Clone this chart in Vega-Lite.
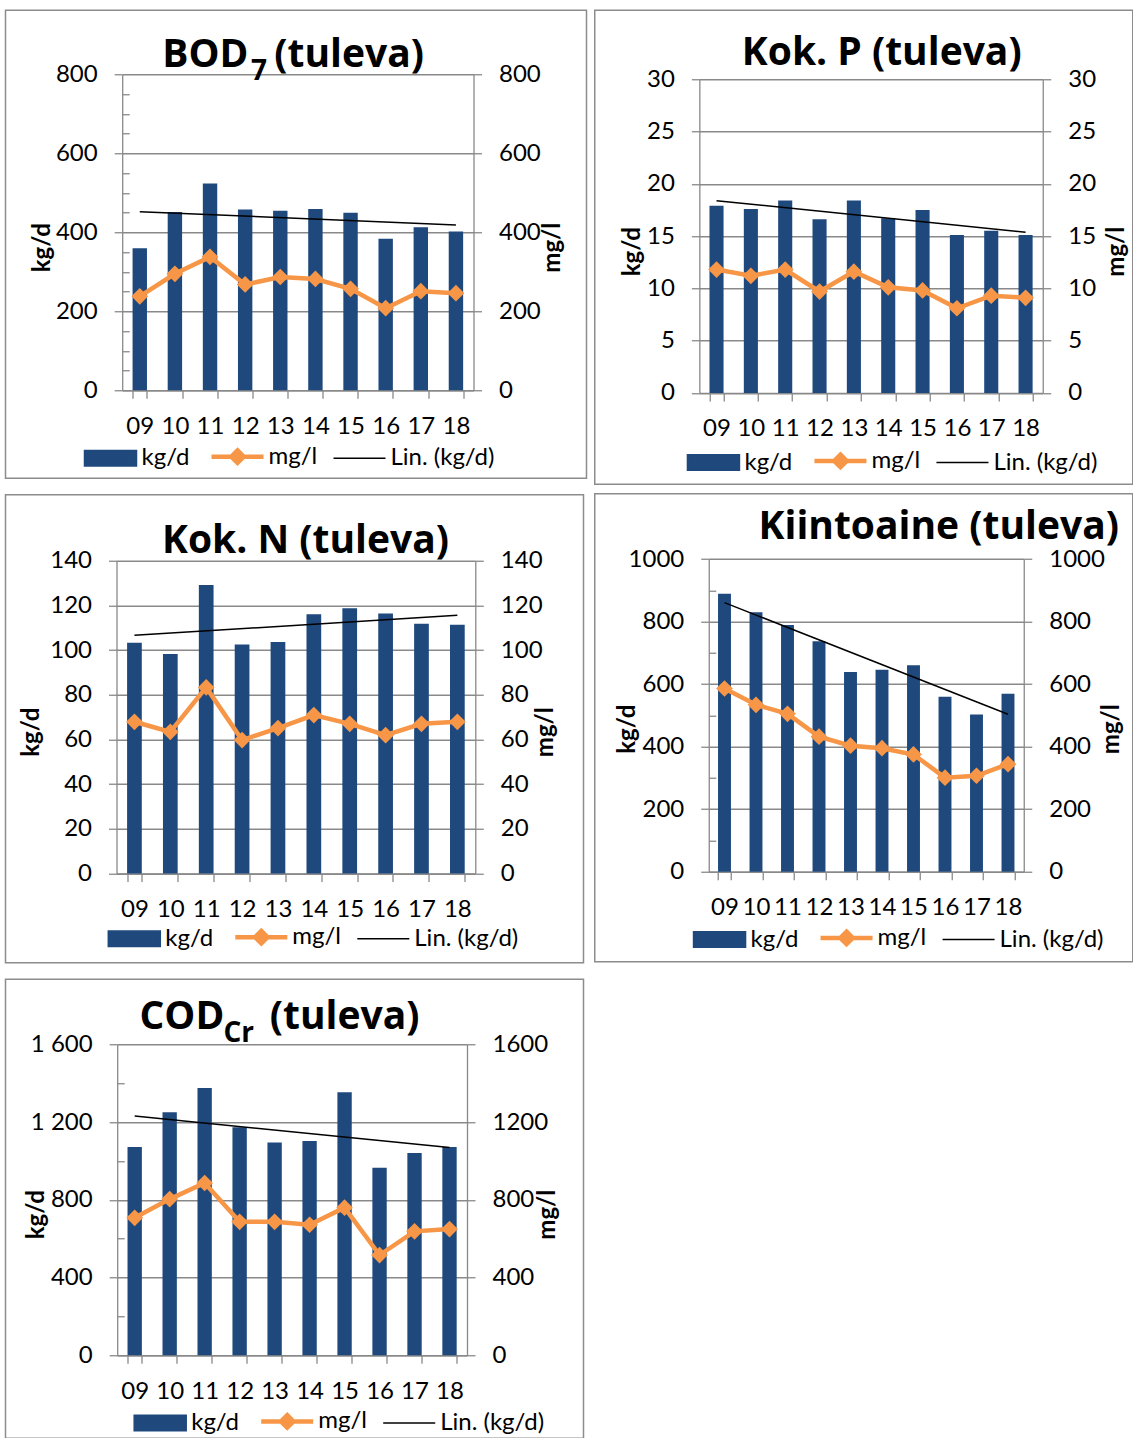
{
  "$schema": "https://vega.github.io/schema/vega-lite/v6.json",
  "padding": {"left": 4.5, "top": 9.25, "right": 0, "bottom": 0},
  "background": "white",
  "config": {
    "font": "Lato",
    "view": {"stroke": "#8c8c8c", "strokeWidth": 1.5, "fill": "white"},
    "axis": {
      "domainColor": "#898989", "domainWidth": 1.3,
      "tickColor": "#898989", "tickWidth": 1.3, "tickSize": 8,
      "gridColor": "#898989", "gridWidth": 1.3,
      "labelFont": "Lato", "labelFontSize": 24, "labelColor": "#000000", "labelPadding": 17,
      "labelFlush": false, "labelOverlap": false,
      "titleFont": "Lato", "titleFontSize": 24, "titleFontWeight": "bold", "titleColor": "#000000"
    },
    "legend": {"padding": 0, "labelFont": "Lato", "labelFontSize": 24, "labelColor": "#000000", "symbolSize": 2704, "labelOffset": 19, "columnPadding": 13}
  },
  "resolve": {"scale": {"color": "independent"}, "legend": {"color": "independent"}},
  "spacing": 6.25,
  "hconcat": [
    {
      "spacing": 14.5,
      "resolve": {"scale": {"color": "independent"}, "legend": {"color": "independent"}},
      "vconcat": [
        {
          "width": 581, "height": 468,
          "title": {"text": "BOD\u2002\u2009(tuleva)", "subtitle": "\u200b\u2003\u2003\u2003\u20067", "orient": "top", "anchor": "start", "frame": "group", "align": "left", "dx": 156.7, "offset": -75.6, "subtitlePadding": -17.3, "font": "Open Sans", "fontSize": 39, "fontWeight": "bold", "color": "#000000", "subtitleFont": "Open Sans", "subtitleFontSize": 28, "subtitleFontWeight": "bold", "subtitleColor": "#000000"},
          "data": {"values": [
            {"yr": 9, "kgd": 360, "mgl": 238},
            {"yr": 10, "kgd": 452, "mgl": 295},
            {"yr": 11, "kgd": 524, "mgl": 338},
            {"yr": 12, "kgd": 458, "mgl": 268},
            {"yr": 13, "kgd": 455, "mgl": 287},
            {"yr": 14, "kgd": 459, "mgl": 282},
            {"yr": 15, "kgd": 450, "mgl": 257},
            {"yr": 16, "kgd": 384, "mgl": 208},
            {"yr": 17, "kgd": 413, "mgl": 251},
            {"yr": 18, "kgd": 402, "mgl": 246}
          ]},
          "encoding": {"x": {"field": "yr", "type": "ordinal", "scale": {"type": "band", "domain": [9, 10, 11, 12, 13, 14, 15, 16, 17, 18], "range": [116.7, 468], "paddingInner": 0.59, "paddingOuter": 0.295}, "axis": {"orient": "bottom", "offset": -88, "title": null, "tickBand": "extent", "labelAngle": 0, "grid": false, "labelPadding": 16, "labelExpr": "isValid(datum.value) ? ((datum.value < 10 ? '0' : '') + datum.value) : ''"}}},
          "layer": [
            {"mark": {"type": "bar"},
             "encoding": {
               "y": {"field": "kgd", "type": "quantitative", "scale": {"domain": [0, 800], "range": [380, 64.3], "nice": false, "zero": false},
                     "axis": {"orient": "left", "offset": -116.7, "values": [0, 200, 400, 600, 800], "format": "d", "title": "kg/d", "titleX": -79.7, "titleY": 237, "titleAngle": 270, "titleAlign": "center", "titleBaseline": "middle", "grid": true, "labelDy": 1}},
               "color": {"datum": "kg/d", "title": null, "scale": {"domain": ["kg/d", "mg/l", "Lin. (kg/d)"], "range": ["#1f497d", "#f79646", "#000000"]},
                         "legend": {"orient": "none", "direction": "horizontal", "legendX": 93, "legendY": 434, "title": null,
                                    "encode": {"symbols": {"update": {
                                      "shape": {"signal": "datum.value === 'kg/d' ? 'M-1,-0.3H1V0.3H-1Z' : datum.value === 'mg/l' ? 'M-1,0H1M0,-0.24L0.24,0L0,0.24L-0.24,0Z' : 'M-1,0H1'"},
                                      "fill": {"signal": "datum.value === 'kg/d' ? '#1f497d' : datum.value === 'mg/l' ? '#f79646' : 'transparent'"},
                                      "stroke": {"signal": "datum.value === 'kg/d' ? 'transparent' : datum.value === 'mg/l' ? '#f79646' : '#000000'"},
                                      "strokeWidth": {"signal": "datum.value === 'mg/l' ? 4.5 : 1.5"},
                                      "opacity": {"value": 1}, "size": {"value": 2704}}}}}}
             }},
            {"transform": [{"regression": "kgd", "on": "yr"}],
             "mark": {"type": "line", "strokeWidth": 1.5},
             "encoding": {"y": {"field": "kgd", "type": "quantitative", "scale": {"domain": [0, 800], "range": [380, 64.3], "nice": false, "zero": false},
                                "axis": {"orient": "left", "offset": -116.7, "values": [50, 100, 150, 250, 300, 350, 450, 500, 550, 650, 700, 750], "labels": false, "domain": false, "grid": false, "tickSize": -7, "title": null}},
                          "color": {"datum": "Lin. (kg/d)"}}},
            {"mark": {"type": "line", "strokeWidth": 4.5, "point": {"shape": "diamond", "size": 280, "filled": true, "opacity": 1}},
             "encoding": {
               "y": {"field": "mgl", "type": "quantitative", "scale": {"domain": [0, 800], "range": [380, 64.3], "nice": false, "zero": false},
                     "axis": {"orient": "right", "offset": -113, "values": [0, 200, 400, 600, 800], "format": "d", "title": "mg/l", "titleX": 79, "titleY": 237, "titleAngle": 270, "titleAlign": "center", "titleBaseline": "middle", "grid": false, "labelDy": 1}},
               "color": {"datum": "mg/l"}}}
          ],
          "resolve": {"scale": {"y": "independent"}}
        },
        {
          "width": 578, "height": 468,
          "title": {"text": "Kok. N (tuleva)", "orient": "top", "anchor": "start", "frame": "group", "align": "center", "dx": 300, "offset": -65.9, "font": "Open Sans", "fontSize": 39, "fontWeight": "bold", "color": "#000000"},
          "data": {"values": [
            {"yr": 9, "kgd": 103.3, "mgl": 67.9},
            {"yr": 10, "kgd": 98.2, "mgl": 63.4},
            {"yr": 11, "kgd": 129.1, "mgl": 83.3},
            {"yr": 12, "kgd": 102.5, "mgl": 59.7},
            {"yr": 13, "kgd": 103.6, "mgl": 65.1},
            {"yr": 14, "kgd": 116.1, "mgl": 70.9},
            {"yr": 15, "kgd": 118.7, "mgl": 67.0},
            {"yr": 16, "kgd": 116.4, "mgl": 61.9},
            {"yr": 17, "kgd": 111.8, "mgl": 67.0},
            {"yr": 18, "kgd": 111.3, "mgl": 67.9}
          ]},
          "encoding": {"x": {"field": "yr", "type": "ordinal", "scale": {"type": "band", "domain": [9, 10, 11, 12, 13, 14, 15, 16, 17, 18], "range": [111, 469.8], "paddingInner": 0.59, "paddingOuter": 0.295}, "axis": {"orient": "bottom", "offset": -89.3, "title": null, "tickBand": "extent", "labelAngle": 0, "grid": false, "labelPadding": 16, "labelExpr": "isValid(datum.value) ? ((datum.value < 10 ? '0' : '') + datum.value) : ''"}}},
          "layer": [
            {"mark": {"type": "bar"},
             "encoding": {
               "y": {"field": "kgd", "type": "quantitative", "scale": {"domain": [0, 140], "range": [378.7, 66], "nice": false, "zero": false},
                     "axis": {"orient": "left", "offset": -111, "values": [0, 20, 40, 60, 80, 100, 120, 140], "format": "d", "title": "kg/d", "titleX": -85, "titleY": 237, "titleAngle": 270, "titleAlign": "center", "titleBaseline": "middle", "grid": true, "labelDy": 1}},
               "color": {"datum": "kg/d", "title": null, "scale": {"domain": ["kg/d", "mg/l", "Lin. (kg/d)"], "range": ["#1f497d", "#f79646", "#000000"]},
                         "legend": {"orient": "none", "direction": "horizontal", "legendX": 116.8, "legendY": 430, "title": null,
                                    "encode": {"symbols": {"update": {
                                      "shape": {"signal": "datum.value === 'kg/d' ? 'M-1,-0.3H1V0.3H-1Z' : datum.value === 'mg/l' ? 'M-1,0H1M0,-0.24L0.24,0L0,0.24L-0.24,0Z' : 'M-1,0H1'"},
                                      "fill": {"signal": "datum.value === 'kg/d' ? '#1f497d' : datum.value === 'mg/l' ? '#f79646' : 'transparent'"},
                                      "stroke": {"signal": "datum.value === 'kg/d' ? 'transparent' : datum.value === 'mg/l' ? '#f79646' : '#000000'"},
                                      "strokeWidth": {"signal": "datum.value === 'mg/l' ? 4.5 : 1.5"},
                                      "opacity": {"value": 1}, "size": {"value": 2704}}}}}}
             }},
            {"transform": [{"regression": "kgd", "on": "yr"}],
             "mark": {"type": "line", "strokeWidth": 1.5},
             "encoding": {"y": {"field": "kgd", "type": "quantitative", "scale": {"domain": [0, 140], "range": [378.7, 66], "nice": false, "zero": false}, "axis": null}, "color": {"datum": "Lin. (kg/d)"}}},
            {"mark": {"type": "line", "strokeWidth": 4.5, "point": {"shape": "diamond", "size": 280, "filled": true, "opacity": 1}},
             "encoding": {
               "y": {"field": "mgl", "type": "quantitative", "scale": {"domain": [0, 140], "range": [378.7, 66], "nice": false, "zero": false},
                     "axis": {"orient": "right", "offset": -108.2, "values": [0, 20, 40, 60, 80, 100, 120, 140], "format": "d", "title": "mg/l", "titleX": 70.2, "titleY": 237, "titleAngle": 270, "titleAlign": "center", "titleBaseline": "middle", "grid": false, "labelDy": 1}},
               "color": {"datum": "mg/l"}}}
          ],
          "resolve": {"scale": {"y": "independent"}}
        },
        {
          "width": 578, "height": 459,
          "title": {"text": "COD\u2003\u2009(tuleva)", "subtitle": "\u200b\u2003\u2003\u2002\u2006\u2006\u2006Cr", "orient": "top", "anchor": "start", "frame": "group", "align": "left", "dx": 134, "offset": -68.9, "subtitlePadding": -17.3, "font": "Open Sans", "fontSize": 39, "fontWeight": "bold", "color": "#000000", "subtitleFont": "Open Sans", "subtitleFontSize": 28, "subtitleFontWeight": "bold", "subtitleColor": "#000000"},
          "data": {"values": [
            {"yr": 9, "kgd": 1072, "mgl": 708},
            {"yr": 10, "kgd": 1251, "mgl": 804},
            {"yr": 11, "kgd": 1376, "mgl": 887},
            {"yr": 12, "kgd": 1174, "mgl": 687},
            {"yr": 13, "kgd": 1096, "mgl": 687},
            {"yr": 14, "kgd": 1103, "mgl": 672},
            {"yr": 15, "kgd": 1354, "mgl": 760},
            {"yr": 16, "kgd": 966, "mgl": 516},
            {"yr": 17, "kgd": 1041, "mgl": 638},
            {"yr": 18, "kgd": 1072, "mgl": 650}
          ]},
          "encoding": {"x": {"field": "yr", "type": "ordinal", "scale": {"type": "band", "domain": [9, 10, 11, 12, 13, 14, 15, 16, 17, 18], "range": [111.7, 461.5], "paddingInner": 0.59, "paddingOuter": 0.295}, "axis": {"orient": "bottom", "offset": -83, "title": null, "tickBand": "extent", "labelAngle": 0, "grid": false, "labelPadding": 16, "labelExpr": "isValid(datum.value) ? ((datum.value < 10 ? '0' : '') + datum.value) : ''"}}},
          "layer": [
            {"mark": {"type": "bar"},
             "encoding": {
               "y": {"field": "kgd", "type": "quantitative", "scale": {"domain": [0, 1600], "range": [376, 65.3], "nice": false, "zero": false},
                     "axis": {"orient": "left", "offset": -111.7, "values": [0, 400, 800, 1200, 1600], "title": "kg/d", "titleX": -81.2, "titleY": 235, "titleAngle": 270, "titleAlign": "center", "titleBaseline": "middle", "grid": true, "labelDy": 1, "labelExpr": "datum.value >= 1000 ? floor(datum.value / 1000) + ' ' + format(datum.value % 1000, '03d') : '' + datum.value"}},
               "color": {"datum": "kg/d", "title": null, "scale": {"domain": ["kg/d", "mg/l", "Lin. (kg/d)"], "range": ["#1f497d", "#f79646", "#000000"]},
                         "legend": {"orient": "none", "direction": "horizontal", "legendX": 142.7, "legendY": 429.8, "title": null,
                                    "encode": {"symbols": {"update": {
                                      "shape": {"signal": "datum.value === 'kg/d' ? 'M-1,-0.3H1V0.3H-1Z' : datum.value === 'mg/l' ? 'M-1,0H1M0,-0.24L0.24,0L0,0.24L-0.24,0Z' : 'M-1,0H1'"},
                                      "fill": {"signal": "datum.value === 'kg/d' ? '#1f497d' : datum.value === 'mg/l' ? '#f79646' : 'transparent'"},
                                      "stroke": {"signal": "datum.value === 'kg/d' ? 'transparent' : datum.value === 'mg/l' ? '#f79646' : '#000000'"},
                                      "strokeWidth": {"signal": "datum.value === 'mg/l' ? 4.5 : 1.5"},
                                      "opacity": {"value": 1}, "size": {"value": 2704}}}}}}
             }},
            {"transform": [{"regression": "kgd", "on": "yr"}],
             "mark": {"type": "line", "strokeWidth": 1.5},
             "encoding": {"y": {"field": "kgd", "type": "quantitative", "scale": {"domain": [0, 1600], "range": [376, 65.3], "nice": false, "zero": false},
                                "axis": {"orient": "left", "offset": -111.7, "values": [200, 600, 1000, 1400], "labels": false, "domain": false, "grid": false, "tickSize": -7, "title": null}},
                          "color": {"datum": "Lin. (kg/d)"}}},
            {"mark": {"type": "line", "strokeWidth": 4.5, "point": {"shape": "diamond", "size": 280, "filled": true, "opacity": 1}},
             "encoding": {
               "y": {"field": "mgl", "type": "quantitative", "scale": {"domain": [0, 1600], "range": [376, 65.3], "nice": false, "zero": false},
                     "axis": {"orient": "right", "offset": -116.5, "values": [0, 400, 800, 1200, 1600], "format": "d", "title": "mg/l", "titleX": 80.5, "titleY": 235, "titleAngle": 270, "titleAlign": "center", "titleBaseline": "middle", "grid": false, "labelDy": 1}},
               "color": {"datum": "mg/l"}}}
          ],
          "resolve": {"scale": {"y": "independent"}}
        }
      ]
    },
    {
      "spacing": 7.5,
      "resolve": {"scale": {"color": "independent"}, "legend": {"color": "independent"}},
      "vconcat": [
        {
          "width": 538, "height": 474,
          "title": {"text": "Kok. P (tuleva)", "orient": "top", "anchor": "start", "frame": "group", "align": "center", "dx": 287, "offset": -63.2, "font": "Open Sans", "fontSize": 39, "fontWeight": "bold", "color": "#000000"},
          "data": {"values": [
            {"yr": 9, "kgd": 17.9, "mgl": 11.8},
            {"yr": 10, "kgd": 17.6, "mgl": 11.2},
            {"yr": 11, "kgd": 18.4, "mgl": 11.8},
            {"yr": 12, "kgd": 16.6, "mgl": 9.7},
            {"yr": 13, "kgd": 18.4, "mgl": 11.6},
            {"yr": 14, "kgd": 16.7, "mgl": 10.1},
            {"yr": 15, "kgd": 17.5, "mgl": 9.8},
            {"yr": 16, "kgd": 15.1, "mgl": 8.1},
            {"yr": 17, "kgd": 15.5, "mgl": 9.3},
            {"yr": 18, "kgd": 15.1, "mgl": 9.1}
          ]},
          "encoding": {"x": {"field": "yr", "type": "ordinal", "scale": {"type": "band", "domain": [9, 10, 11, 12, 13, 14, 15, 16, 17, 18], "range": [104.6, 448], "paddingInner": 0.59, "paddingOuter": 0.295}, "axis": {"orient": "bottom", "offset": -91.3, "title": null, "tickBand": "extent", "labelAngle": 0, "grid": false, "labelPadding": 16, "labelExpr": "isValid(datum.value) ? ((datum.value < 10 ? '0' : '') + datum.value) : ''"}}},
          "layer": [
            {"mark": {"type": "bar"},
             "encoding": {
               "y": {"field": "kgd", "type": "quantitative", "scale": {"domain": [0, 30], "range": [382.7, 69], "nice": false, "zero": false},
                     "axis": {"orient": "left", "offset": -104.6, "values": [0, 5, 10, 15, 20, 25, 30], "format": "d", "title": "kg/d", "titleX": -66.6, "titleY": 241, "titleAngle": 270, "titleAlign": "center", "titleBaseline": "middle", "grid": true, "labelDy": 1}},
               "color": {"datum": "kg/d", "title": null, "scale": {"domain": ["kg/d", "mg/l", "Lin. (kg/d)"], "range": ["#1f497d", "#f79646", "#000000"]},
                         "legend": {"orient": "none", "direction": "horizontal", "legendX": 106.7, "legendY": 438.3, "title": null,
                                    "encode": {"symbols": {"update": {
                                      "shape": {"signal": "datum.value === 'kg/d' ? 'M-1,-0.3H1V0.3H-1Z' : datum.value === 'mg/l' ? 'M-1,0H1M0,-0.24L0.24,0L0,0.24L-0.24,0Z' : 'M-1,0H1'"},
                                      "fill": {"signal": "datum.value === 'kg/d' ? '#1f497d' : datum.value === 'mg/l' ? '#f79646' : 'transparent'"},
                                      "stroke": {"signal": "datum.value === 'kg/d' ? 'transparent' : datum.value === 'mg/l' ? '#f79646' : '#000000'"},
                                      "strokeWidth": {"signal": "datum.value === 'mg/l' ? 4.5 : 1.5"},
                                      "opacity": {"value": 1}, "size": {"value": 2704}}}}}}
             }},
            {"transform": [{"regression": "kgd", "on": "yr"}],
             "mark": {"type": "line", "strokeWidth": 1.5},
             "encoding": {"y": {"field": "kgd", "type": "quantitative", "scale": {"domain": [0, 30], "range": [382.7, 69], "nice": false, "zero": false}, "axis": null}, "color": {"datum": "Lin. (kg/d)"}}},
            {"mark": {"type": "line", "strokeWidth": 4.5, "point": {"shape": "diamond", "size": 280, "filled": true, "opacity": 1}},
             "encoding": {
               "y": {"field": "mgl", "type": "quantitative", "scale": {"domain": [0, 30], "range": [382.7, 69], "nice": false, "zero": false},
                     "axis": {"orient": "right", "offset": -90, "values": [0, 5, 10, 15, 20, 25, 30], "format": "d", "title": "mg/l", "titleX": 74, "titleY": 241, "titleAngle": 270, "titleAlign": "center", "titleBaseline": "middle", "grid": false, "labelDy": 1}},
               "color": {"datum": "mg/l"}}}
          ],
          "resolve": {"scale": {"y": "independent"}}
        },
        {
          "width": 538, "height": 468,
          "title": {"text": "Kiintoaine (tuleva)", "orient": "top", "anchor": "start", "frame": "group", "align": "center", "dx": 344, "offset": -53.5, "font": "Open Sans", "fontSize": 39, "fontWeight": "bold", "color": "#000000"},
          "data": {"values": [
            {"yr": 9, "kgd": 889, "mgl": 586},
            {"yr": 10, "kgd": 830, "mgl": 534},
            {"yr": 11, "kgd": 789, "mgl": 505},
            {"yr": 12, "kgd": 737, "mgl": 432},
            {"yr": 13, "kgd": 639, "mgl": 403},
            {"yr": 14, "kgd": 646, "mgl": 395},
            {"yr": 15, "kgd": 660, "mgl": 375},
            {"yr": 16, "kgd": 560, "mgl": 301},
            {"yr": 17, "kgd": 503, "mgl": 307},
            {"yr": 18, "kgd": 569, "mgl": 344}
          ]},
          "encoding": {"x": {"field": "yr", "type": "ordinal", "scale": {"type": "band", "domain": [9, 10, 11, 12, 13, 14, 15, 16, 17, 18], "range": [114, 429], "paddingInner": 0.59, "paddingOuter": 0.295}, "axis": {"orient": "bottom", "offset": -90, "title": null, "tickBand": "extent", "labelAngle": 0, "grid": false, "labelPadding": 16, "labelExpr": "isValid(datum.value) ? ((datum.value < 10 ? '0' : '') + datum.value) : ''"}}},
          "layer": [
            {"mark": {"type": "bar"},
             "encoding": {
               "y": {"field": "kgd", "type": "quantitative", "scale": {"domain": [0, 1000], "range": [378, 65.3], "nice": false, "zero": false},
                     "axis": {"orient": "left", "offset": -114, "values": [0, 200, 400, 600, 800, 1000], "format": "d", "title": "kg/d", "titleX": -81, "titleY": 235, "titleAngle": 270, "titleAlign": "center", "titleBaseline": "middle", "grid": true, "labelDy": 1}},
               "color": {"datum": "kg/d", "title": null, "scale": {"domain": ["kg/d", "mg/l", "Lin. (kg/d)"], "range": ["#1f497d", "#f79646", "#000000"]},
                         "legend": {"orient": "none", "direction": "horizontal", "legendX": 112.8, "legendY": 431.8, "title": null,
                                    "encode": {"symbols": {"update": {
                                      "shape": {"signal": "datum.value === 'kg/d' ? 'M-1,-0.3H1V0.3H-1Z' : datum.value === 'mg/l' ? 'M-1,0H1M0,-0.24L0.24,0L0,0.24L-0.24,0Z' : 'M-1,0H1'"},
                                      "fill": {"signal": "datum.value === 'kg/d' ? '#1f497d' : datum.value === 'mg/l' ? '#f79646' : 'transparent'"},
                                      "stroke": {"signal": "datum.value === 'kg/d' ? 'transparent' : datum.value === 'mg/l' ? '#f79646' : '#000000'"},
                                      "strokeWidth": {"signal": "datum.value === 'mg/l' ? 4.5 : 1.5"},
                                      "opacity": {"value": 1}, "size": {"value": 2704}}}}}}
             }},
            {"transform": [{"regression": "kgd", "on": "yr"}],
             "mark": {"type": "line", "strokeWidth": 1.5},
             "encoding": {"y": {"field": "kgd", "type": "quantitative", "scale": {"domain": [0, 1000], "range": [378, 65.3], "nice": false, "zero": false},
                                "axis": {"orient": "left", "offset": -114, "values": [100, 300, 500, 700, 900], "labels": false, "domain": false, "grid": false, "tickSize": -7, "title": null}},
                          "color": {"datum": "Lin. (kg/d)"}}},
            {"mark": {"type": "line", "strokeWidth": 4.5, "point": {"shape": "diamond", "size": 280, "filled": true, "opacity": 1}},
             "encoding": {
               "y": {"field": "mgl", "type": "quantitative", "scale": {"domain": [0, 1000], "range": [378, 65.3], "nice": false, "zero": false},
                     "axis": {"orient": "right", "offset": -109, "values": [0, 200, 400, 600, 800, 1000], "format": "d", "title": "mg/l", "titleX": 87.6, "titleY": 235, "titleAngle": 270, "titleAlign": "center", "titleBaseline": "middle", "grid": false, "labelDy": 1}},
               "color": {"datum": "mg/l"}}}
          ],
          "resolve": {"scale": {"y": "independent"}}
        }
      ]
    }
  ]
}
